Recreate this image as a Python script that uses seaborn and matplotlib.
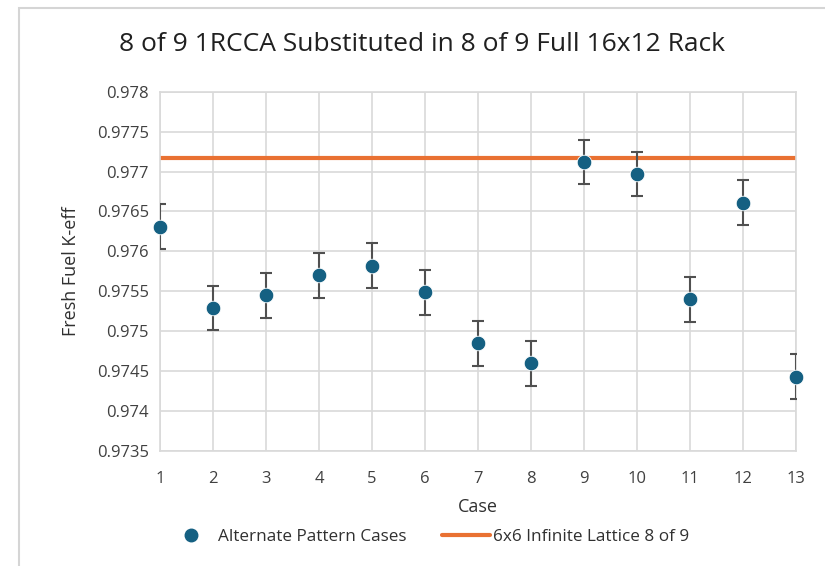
import matplotlib
matplotlib.use("Agg")
import matplotlib.pyplot as plt
import seaborn as sns
import pandas as pd
import numpy as np
from matplotlib.lines import Line2D
from matplotlib.patches import Rectangle

cases = [1, 2, 3, 4, 5, 6, 7, 8, 9, 10, 11, 12, 13]
keff = [0.97631, 0.97529, 0.97545, 0.97570, 0.97582, 0.97549, 0.97485,
        0.97460, 0.97712, 0.97697, 0.97540, 0.97661, 0.97443]
keff_err = [0.00028] * 13
lattice_keff = 0.977167
yticks = [0.9735, 0.974, 0.9745, 0.975, 0.9755, 0.976, 0.9765, 0.977, 0.9775, 0.978]
ytick_labels = ["0.9735", "0.974", "0.9745", "0.975", "0.9755", "0.976",
                "0.9765", "0.977", "0.9775", "0.978"]

sns.set_theme(style="white")
plt.rcParams['font.family'] = ['Open Sans', 'DejaVu Sans']

df = pd.DataFrame({"Case": cases, "keff": keff, "err": keff_err})

fig = plt.figure(figsize=(8.25, 5.66), dpi=100)
ax = fig.add_axes([0.194, 0.203, 0.771, 0.635])

blue = "#156082"
orange = "#E97132"
grid = "#D9D9D9"

ax.set_xlim(1, 13)
ax.set_ylim(0.9735, 0.978)
ax.set_xticks(cases)
ax.set_yticks(yticks)
ax.set_yticklabels(ytick_labels)
ax.grid(True, color=grid, linewidth=1.2)
ax.set_axisbelow(True)
for s in ax.spines.values():
    s.set_color(grid)
    s.set_linewidth(1.2)
ax.tick_params(axis="both", length=0, labelsize=12, colors="#404040")
ax.tick_params(axis="x", pad=14)
ax.tick_params(axis="y", pad=8)

ax.axhline(lattice_keff, color=orange, linewidth=3, zorder=2)
ax.errorbar(df["Case"], df["keff"], yerr=df["err"], fmt="none",
            ecolor="#505050", elinewidth=1.5, capsize=4.5, capthick=1.5, zorder=3)
sns.scatterplot(data=df, x="Case", y="keff", ax=ax, color=blue, s=110,
                edgecolor="white", linewidth=0.6, zorder=4, clip_on=False, legend=False)

ax.set_xlabel("Case", fontsize=13, color="#303030", labelpad=8)
ax.set_ylabel("Fresh Fuel K-eff", fontsize=13, color="#303030", labelpad=12)
fig.text(0.512, 0.921, "8 of 9 1RCCA Substituted in 8 of 9 Full 16x12 Rack",
         ha="center", va="center", fontsize=19, color="#202020")

handles = [Line2D([0], [0], marker="o", linestyle="none", color=blue, markersize=9),
           Line2D([0], [0], color=orange, linewidth=3)]
fig.legend(handles, ["Alternate Pattern Cases", "6x6 Infinite Lattice 8 of 9"],
           loc="center", bbox_to_anchor=(0.519, 0.051), ncol=2, frameon=False,
           fontsize=12.3, handlelength=2.8, handletextpad=0.15, columnspacing=2.1,
           labelcolor="#303030")

fig.patches.append(Rectangle((0.023, -0.05), 1.05, 1.036, transform=fig.transFigure,
                             fill=False, edgecolor="#D5D5D5", linewidth=1.5))

fig.savefig("out.png", dpi=100)
